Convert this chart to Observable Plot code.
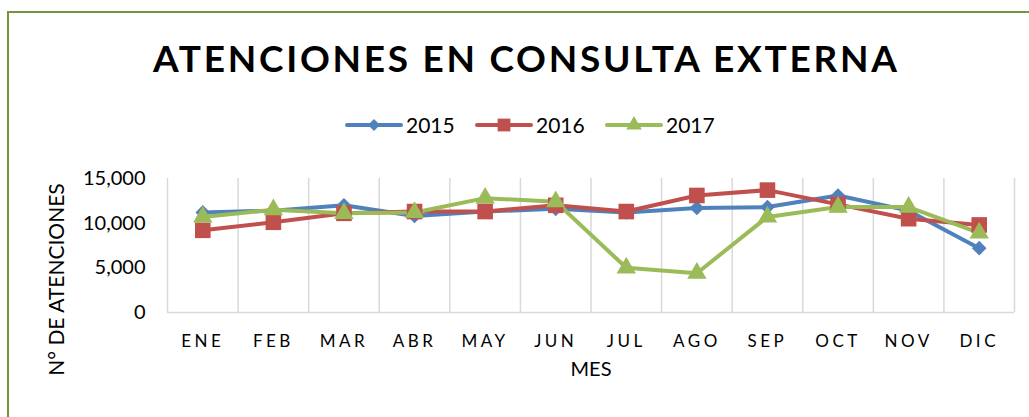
<!DOCTYPE html>
<html><head><meta charset="utf-8">
<script src="https://cdn.jsdelivr.net/npm/d3@7"></script>
<script src="https://cdn.jsdelivr.net/npm/@observablehq/plot@0.6"></script>
<style>
body{margin:0;background:#fff;}
#wrap{position:relative;width:1029px;height:417px;overflow:hidden;font-family:Lato,"Open Sans",sans-serif;}
#border{position:absolute;left:7px;top:11px;width:1040px;height:420px;border-left:2px solid #77933C;border-top:2px solid #77933C;}
#title{position:absolute;left:0;top:0;}
#legend{position:absolute;left:0;top:100px;}
#chart{position:absolute;left:0;top:150px;}
#chart g[aria-label="x-axis tick label"] text{letter-spacing:3.5px;}
</style>
</head><body>
<div id="wrap">
  <div id="border"></div>
  <svg id="title" width="1029" height="100"><text x="525" y="72" text-anchor="middle" font-family="Lato, sans-serif" font-weight="bold" font-size="37" textLength="744" lengthAdjust="spacing" fill="#000">ATENCIONES EN CONSULTA EXTERNA</text></svg>
  <svg id="legend" width="1029" height="50"></svg>
  <div id="chart"></div>
</div>
<script>
const months = ["ENE","FEB","MAR","ABR","MAY","JUN","JUL","AGO","SEP","OCT","NOV","DIC"];
const years = ["2015","2016","2017"];
const v2015 = [11200, 11400, 12000, 10800, 11300, 11600, 11200, 11700, 11800, 13100, 11400, 7200];
const v2016 = [9200, 10100, 11100, 11300, 11300, 12000, 11300, 13100, 13700, 12100, 10500, 9800];
const v2017 = [10700, 11500, 11100, 11200, 12800, 12400, 5000, 4400, 10700, 11800, 11800, 8900];
const yTicks = [0, 5000, 10000, 15000];
const colors = ["#4F81BD", "#C0504D", "#9BBB59"];
const symbols = ["diamond2", "square", "triangle"];
const radii = [6.6, 8.8, 7.2];

const series = [v2015, v2016, v2017];
const data = [];
series.forEach((vals, s) => vals.forEach((v, i) => data.push({year: years[s], i, v})));
const bounds = d3.range(-0.5, months.length, 1);

const marks = [
  Plot.ruleX(bounds, {stroke: "#D9D9D9", strokeWidth: 1.5}),
  Plot.ruleY([0], {stroke: "#D9D9D9", strokeWidth: 1.5}),
  Plot.axisX({ticks: months.map((m, i) => i), tickFormat: i => months[i], tickSize: 0, tickPadding: 22, fontSize: 17, fill: "#000", label: null}),
  Plot.axisY({ticks: yTicks, tickFormat: d3.format(","), tickSize: 0, tickPadding: 22, fontSize: 20, fill: "#000", label: null}),
  Plot.text(["N° DE ATENCIONES"], {frameAnchor: "left", textAnchor: "middle", dx: -110, dy: 34, rotate: -90, fontSize: 21, fill: "#000"}),
  Plot.text(["MES"], {frameAnchor: "bottom", dy: 63, fontSize: 20, fill: "#000"})
];
years.forEach((y, s) => {
  const d = data.filter(r => r.year === y);
  marks.push(Plot.line(d, {x: "i", y: "v", stroke: colors[s], strokeWidth: 4, strokeLinejoin: "round", strokeLinecap: "round"}));
});
years.forEach((y, s) => {
  const d = data.filter(r => r.year === y);
  marks.push(Plot.dot(d, {x: "i", y: "v", symbol: () => symbols[s], r: radii[s], fill: colors[s], stroke: "none"}));
});

const chart = Plot.plot({
  width: 1029, height: 267,
  marginTop: 28, marginBottom: 105, marginLeft: 167, marginRight: 15,
  style: {fontFamily: "Lato, 'Open Sans', sans-serif", background: "transparent", overflow: "visible"},
  x: {type: "linear", domain: [-0.5, 11.5], axis: null},
  y: {domain: [0, 15000], axis: null},
  symbol: {type: "identity"},
  marks
});
document.getElementById("chart").appendChild(chart);

// legend
const leg = d3.select("#legend");
const legX = [347, 477, 607];
years.forEach((y, s) => {
  const g = leg.append("g").attr("transform", `translate(${legX[s]},25)`);
  g.append("line").attr("x1", 0).attr("x2", 54).attr("stroke", colors[s]).attr("stroke-width", 4).attr("stroke-linecap", "round");
  const sym = [d3.symbolDiamond2, d3.symbolSquare, d3.symbolTriangle][s];
  const size = [Math.PI * 5.4 * 5.4, Math.PI * 7.2 * 7.2, Math.PI * 5.8 * 5.8][s];
  g.append("path").attr("transform", "translate(27,0)").attr("d", d3.symbol(sym, size)()).attr("fill", colors[s]);
  g.append("text").attr("x", 59).attr("y", 0).attr("dy", "0.36em").attr("font-size", 21).attr("font-family", "Lato, sans-serif").text(y);
});
</script>
</body></html>
